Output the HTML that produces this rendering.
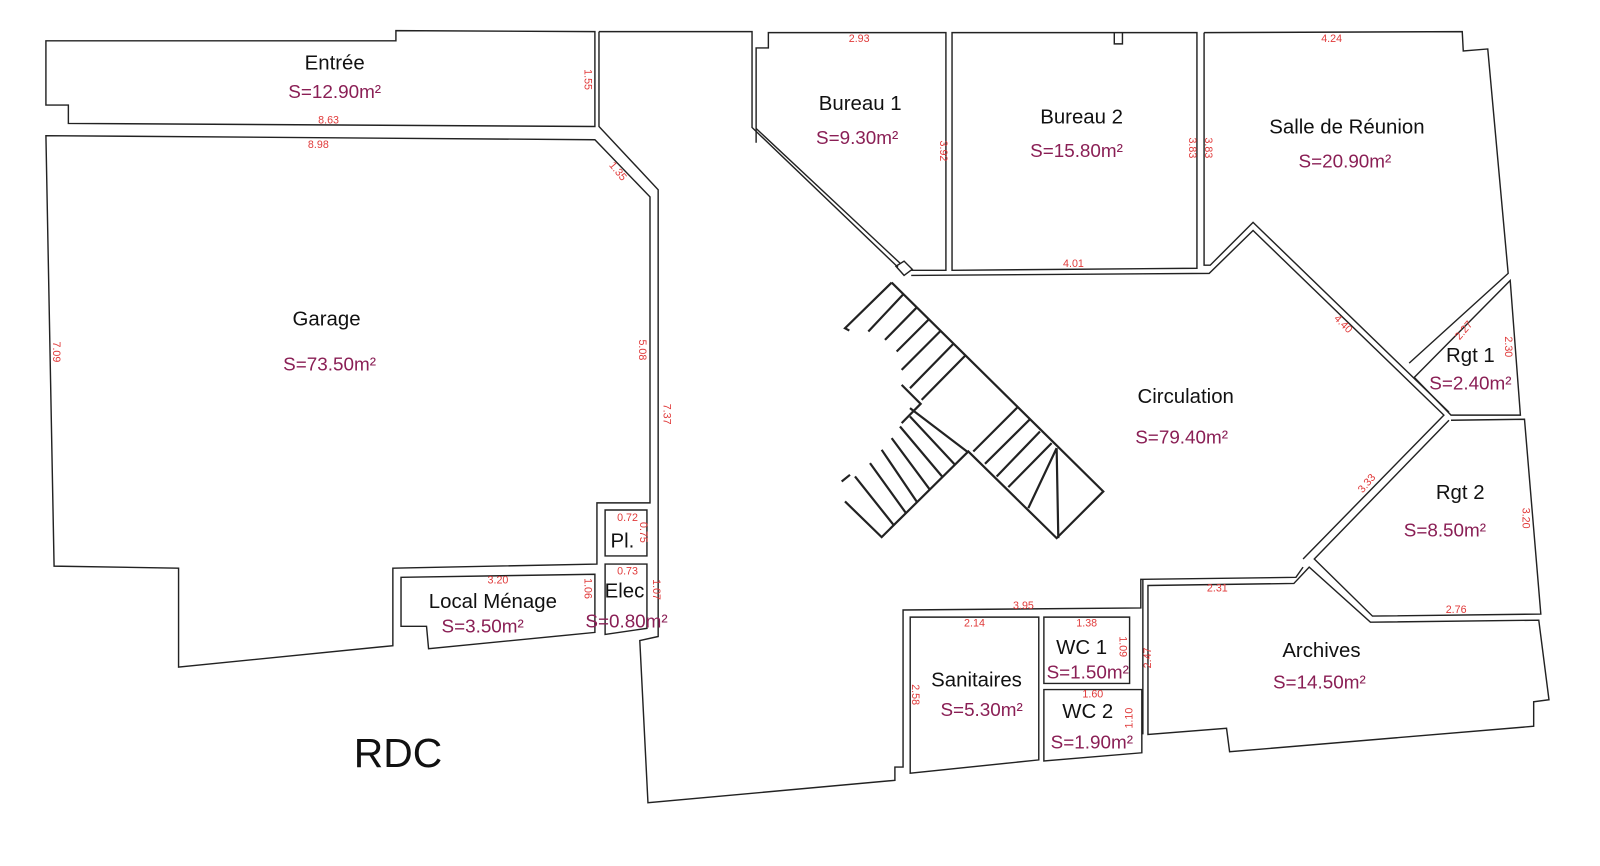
<!DOCTYPE html>
<html><head><meta charset="utf-8"><style>
html,body{margin:0;padding:0;background:#fff;}
svg{display:block;}
.w{fill:none;stroke:#222;stroke-width:1.4;stroke-linejoin:miter;}
.t{font-family:"Liberation Sans",sans-serif;fill:#111;font-size:20px;text-anchor:middle;}
.s{font-family:"Liberation Sans",sans-serif;fill:#8a1f55;font-size:18.5px;text-anchor:middle;}
.d{font-family:"Liberation Sans",sans-serif;fill:#e03a3a;font-size:10.5px;text-anchor:middle;}
</style></head><body>
<svg width="1600" height="866" viewBox="0 0 1568 849" preserveAspectRatio="none" xmlns="http://www.w3.org/2000/svg">
<g class="w">
<!-- Entree -->
<path d="M45,40 L388,40 L388,30 L583,31 L583,124 L67,121 L67,103 L45,103 Z"/>
<!-- Garage -->
<path d="M45,133 L583,137 L637,193 L637,493 L585,493 L585,553 L385,557 L385,633 L175,654 L175,557 L53,555 Z"/>
<!-- corridor outer wall left -->
<path d="M587,31 L587,124 L645,186 L645,624 L627,628 L635,787 L877,765 L877,752 L885,752 L885,598 L1118,596 L1118,568 L1270,566 L1277,556"/>
<path d="M587,31 L737,31 L737,125 L880,262"/>
<!-- Pl / Elec / Local menage -->
<path d="M593,500 L634,500 L634,545 L593,545 Z"/>
<path d="M593,553 L634,553 L634,616 L593,622 Z"/>
<path d="M393,566 L583,563 L583,620 L420,636 L418,614 L393,614 Z"/>
<!-- Bureau 1 -->
<path d="M741,140 L741,47 L753,47 L753,32 L927,32 L927,265 L893,265"/>
<path d="M741,126 L882,258"/>
<path d="M878,261 L886,256 L894,264 L886,270 Z"/>
<!-- Bureau 2 -->
<path d="M933,32 L1173,32 L1173,263 L933,265 Z"/>
<path d="M1092,32 L1092,43 L1100,43 L1100,32"/>
<path d="M893,270 L1185,268 L1228,226 L1415,407 L1277,548"/>
<!-- Salle -->
<path d="M1180,32 L1433,31 L1434,50 L1458,48 L1478,268 L1381,356"/>
<path d="M1180,32 L1180,260 L1186,260 L1228,218 L1420,404"/>
<!-- Rgt1 -->
<path d="M1480,275 L1490,407 L1422,407 L1386,370 Z"/>
<!-- Rgt2 -->
<path d="M1422,412 L1494,411 L1510,602 L1345,604 L1288,548 L1420,412"/>
<!-- Archives -->
<path d="M1125,720 L1125,574 L1268,572 L1283,556 L1343,610 L1508,608 L1518,686 L1503,688 L1503,712 L1205,737 L1202,714 Z"/>
<!-- Sanitaires / WC -->
<path d="M892,605 L1018,605 L1018,745 L892,758 Z"/>
<path d="M1023,605 L1107,605 L1107,670 L1023,670 Z"/>
<path d="M1023,676 L1119,676 L1119,738 L1023,746 Z"/>
<path d="M1120,568 L1120,720"/>
</g>
<!-- stairs -->
<g transform="scale(0.98) translate(800,260) scale(0.3333)" style="fill:none;stroke:#222;stroke-width:2.2">
<path vector-effect="non-scaling-stroke" d="M275,68 L910,695 L770,835 L505,575 L245,832 L135,725"/>
<path vector-effect="non-scaling-stroke" d="M275,68 L135,205 L148,212"/>
<path vector-effect="non-scaling-stroke" d="M305,375 L362,432 L305,490"/>
<path vector-effect="non-scaling-stroke" d="M330,445 L505,578"/>
<path vector-effect="non-scaling-stroke" d="M125,665 L150,645"/>
<path vector-effect="non-scaling-stroke" d="M310,103 L205,215 M350,143 L255,240 M385,180 L290,275 M420,215 L305,330 M460,252 L330,385 M495,288 L365,420"/>
<path vector-effect="non-scaling-stroke" d="M655,440 L520,575 M690,478 L555,612 M720,515 L590,650 M755,550 L625,682 M770,565 L685,745 M770,565 L775,835"/>
<path vector-effect="non-scaling-stroke" d="M330,470 L465,615 M300,500 L428,652 M275,535 L390,690 M245,570 L352,728 M210,610 L318,760 M165,650 L282,797"/>
</g>
<!-- labels -->
<text class="t" x="328" y="68">Entrée</text><text class="s" x="328" y="96">S=12.90m²</text>
<text class="t" x="320" y="319">Garage</text><text class="s" x="323" y="363">S=73.50m²</text>
<text class="t" x="843" y="108">Bureau 1</text><text class="s" x="840" y="141">S=9.30m²</text>
<text class="t" x="1060" y="121">Bureau 2</text><text class="s" x="1055" y="154">S=15.80m²</text>
<text class="t" x="1320" y="131">Salle de Réunion</text><text class="s" x="1318" y="164">S=20.90m²</text>
<text class="t" x="1162" y="395">Circulation</text><text class="s" x="1158" y="435">S=79.40m²</text>
<text class="t" x="1441" y="355">Rgt 1</text><text class="s" x="1441" y="382">S=2.40m²</text>
<text class="t" x="1431" y="489">Rgt 2</text><text class="s" x="1416" y="526">S=8.50m²</text>
<text class="t" x="1295" y="644">Archives</text><text class="s" x="1293" y="675">S=14.50m²</text>
<text class="t" x="957" y="673">Sanitaires</text><text class="s" x="962" y="702">S=5.30m²</text>
<text class="t" x="1060" y="641">WC 1</text><text class="s" x="1066" y="665">S=1.50m²</text>
<text class="t" x="1066" y="704">WC 2</text><text class="s" x="1070" y="734">S=1.90m²</text>
<text class="t" x="483" y="596">Local Ménage</text><text class="s" x="473" y="620">S=3.50m²</text>
<text class="t" x="612" y="586">Elec</text><text class="s" x="614" y="615">S=0.80m²</text>
<text class="t" x="610" y="537">Pl.</text>
<text class="t" x="390" y="752" style="font-size:40px">RDC</text>
<!-- dims -->
<text class="d" x="322" y="121">8.63</text>
<text class="d" x="312" y="145">8.98</text>
<text class="d" transform="translate(573,78) rotate(90)">1.55</text>
<text class="d" transform="translate(603,170) rotate(50)">1.35</text>
<text class="d" transform="translate(52,345) rotate(90)">7.09</text>
<text class="d" transform="translate(626,343) rotate(90)">5.08</text>
<text class="d" transform="translate(650,406) rotate(90)">7.37</text>
<text class="d" x="615" y="511">0.72</text>
<text class="d" transform="translate(627,522) rotate(90)">0.75</text>
<text class="d" x="615" y="563">0.73</text>
<text class="d" transform="translate(640,578) rotate(90)">1.07</text>
<text class="d" transform="translate(573,577) rotate(90)">1.06</text>
<text class="d" x="488" y="572">3.20</text>
<text class="d" x="842" y="41">2.93</text>
<text class="d" transform="translate(921,148) rotate(90)">3.92</text>
<text class="d" transform="translate(1165,145) rotate(90)">3.83</text>
<text class="d" transform="translate(1181,145) rotate(90)">3.83</text>
<text class="d" x="1305" y="41">4.24</text>
<text class="d" x="1052" y="262">4.01</text>
<text class="d" transform="translate(1314,320) rotate(45)">4.40</text>
<text class="d" transform="translate(1437,326) rotate(-50)">2.27</text>
<text class="d" transform="translate(1475,340) rotate(90)">2.30</text>
<text class="d" transform="translate(1342,476) rotate(-50)">3.33</text>
<text class="d" transform="translate(1492,508) rotate(90)">3.20</text>
<text class="d" x="1193" y="580">2.31</text>
<text class="d" x="1427" y="601">2.76</text>
<text class="d" x="1003" y="597">3.95</text>
<text class="d" x="955" y="614">2.14</text>
<text class="d" x="1065" y="614">1.38</text>
<text class="d" transform="translate(1097,634) rotate(90)">1.09</text>
<text class="d" transform="translate(1128,645) rotate(-90)">2.47</text>
<text class="d" x="1071" y="684">1.60</text>
<text class="d" transform="translate(1110,704) rotate(-90)">1.10</text>
<text class="d" transform="translate(894,681) rotate(90)">2.58</text>
</svg>
</body></html>
